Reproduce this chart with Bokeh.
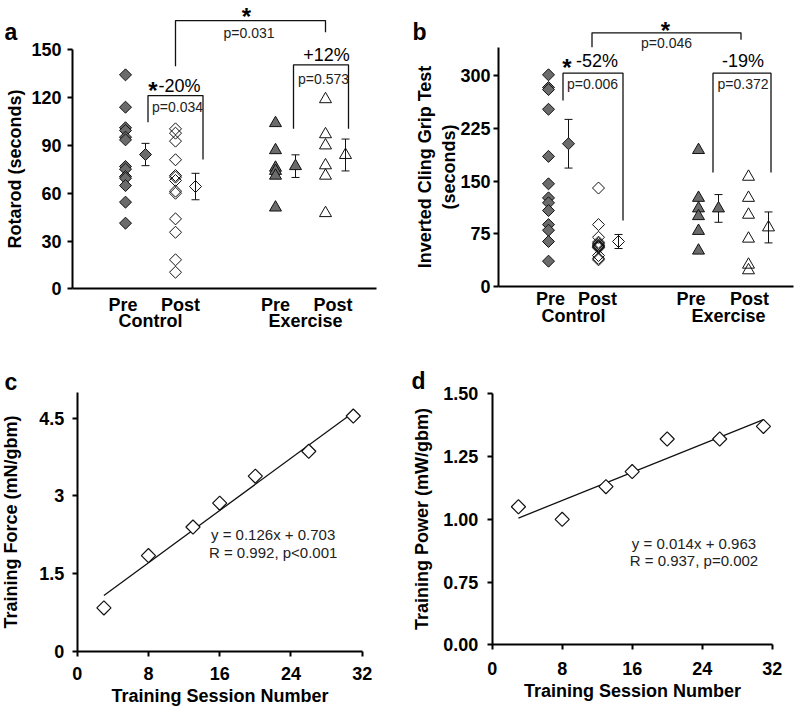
import numpy as np
from bokeh.plotting import figure
from bokeh.layouts import row, column
from bokeh.models import FixedTicker, LinearAxis, Range1d
from bokeh.core.properties import value
from bokeh.embed import file_html
from bokeh.resources import INLINE

FONT = "Liberation Sans"
GRAY = "#6b6b6b"
INK = "#111111"

# ---------------- panel a : Rotarod (seconds) ----------------
a_ctrl_pre = [134.3, 114.0, 101.1, 99.4, 95.2, 93.5, 76.8, 75.1, 70.5, 69.4, 64.8, 54.4, 41.2]
a_ctrl_post = [100.4, 97.7, 92.7, 81.0, 71.1, 70.1, 68.0, 61.3, 60.0, 43.9, 35.5, 18.2, 10.4]
a_ex_pre = [104.0, 87.0, 76.0, 74.0, 71.0, 51.0]
a_ex_post = [119.0, 97.0, 90.0, 77.5, 71.0, 47.5]
a_mean = [84.3, 64.2, 77.0, 84.0]
a_sem = [7.0, 8.3, 7.1, 10.0]
a_yticks = [0, 30, 60, 90, 120, 150]

# ---------------- panel b : Inverted cling grip (seconds) ----------------
b_ctrl_pre = [301, 283, 280, 252, 185, 146, 126, 119, 108, 88, 80, 64, 36]
b_ctrl_post = [140, 88, 70, 63, 61, 59, 58, 57, 56, 55, 44, 40, 38]
b_ex_pre = [194, 126, 111, 100, 79, 51]
b_ex_post = [156, 126, 102, 68, 31, 23]
b_mean = [203, 64, 111, 84]
b_sem = [34.6, 10.0, 19.7, 22.0]
b_yticks = [0, 75, 150, 225, 300]

# group positions (pre, post for control and exercise) and their means
grp_x = [1, 2, 4, 5]
mean_x = [1.4, 2.4, 4.4, 5.4]
grp_labels = ["Pre", "Post", "Pre", "Post"]
a_lbl_pos = [0.95, 2.1, 4.0, 5.15]
b_lbl_pos = [1.04, 1.98, 3.85, 5.02]
cond_labels = ["Control", "Exercise"]
cond_pos = [1.5, 4.6]

# annotations: brackets (x_left, x_right, y_top, y_left_end, y_right_end)
a_brackets = [(2.0, 5.0, 168.4, 139.7, 161.1),
              (1.45, 2.55, 121.3, 104.6, 81.2),
              (4.36, 5.46, 140.6, 100.4, 100.4)]
a_stars = [(3.42, 170.7), (1.55, 124.2)]
a_pct = [("-20%", 2.08, 127.1), ("+12%", 5.02, 146.5)]
a_pvals = [("p=0.031", 3.47, 160.6), ("p=0.034", 2.04, 113.9), ("p=0.573", 4.96, 131.6)]

b_brackets = [(1.87, 4.85, 360.7, 340.3, 350.8),
              (1.29, 2.49, 303.3, 264.5, 93.8),
              (4.29, 5.45, 303.3, 162.0, 162.0)]
b_stars = [(3.34, 364.4), (1.37, 310.8)]
b_pct = [("-52%", 1.97, 320.2), ("-19%", 4.89, 320.2)]
b_pvals = [("p=0.046", 3.36, 345.8), ("p=0.006", 1.88, 288.2), ("p=0.372", 4.89, 288.2)]

# ---------------- panels c, d : training ----------------
session = [3, 8, 13, 16, 20, 26, 31]
force = [0.84, 1.85, 2.40, 2.86, 3.38, 3.86, 4.54]
power = [1.05, 1.00, 1.13, 1.19, 1.32, 1.32, 1.37]
force_fit = (0.126, 0.703)
power_fit = (0.014, 0.963)
c_eq = ["y = 0.126x + 0.703", "R = 0.992, p<0.001"]
d_eq = ["y = 0.014x + 0.963", "R = 0.937, p=0.002"]
x_ticks = [0, 8, 16, 24, 32]
c_yticks = [0, 1.5, 3, 4.5]
c_ylabels = ["0", "1.5", "3", "4.5"]
d_yticks = [0.5, 0.75, 1.0, 1.25, 1.5]
d_ylabels = ["0.00", "0.75", "1.00", "1.25", "1.50"]


def make_fig(w, h, xr, yr):
    p = figure(width=w, height=h, x_range=Range1d(*xr), y_range=Range1d(*yr),
               output_backend="svg", toolbar_location=None,
               min_border_left=0, min_border_right=0,
               min_border_top=0, min_border_bottom=0)
    p.grid.visible = False
    p.outline_line_color = None
    p.background_fill_color = "white"
    p.border_fill_color = "white"
    return p


def style(ax, standoff, label_standoff=5, tick_out=5):
    ax.axis_line_width = 2
    ax.axis_line_color = "black"
    ax.major_tick_line_width = 2
    ax.major_tick_line_color = "black"
    ax.major_tick_in = 0
    ax.major_tick_out = tick_out
    ax.minor_tick_line_color = None
    ax.major_label_text_font = FONT
    ax.major_label_text_font_size = "18px"
    ax.major_label_text_font_style = "bold"
    ax.major_label_text_color = "black"
    ax.major_label_standoff = standoff
    ax.axis_label_text_font = FONT
    ax.axis_label_text_font_size = "18px"
    ax.axis_label_text_font_style = "bold"
    ax.axis_label_text_color = "black"
    ax.axis_label_standoff = label_standoff


def fixed(ax, ticks, labels):
    ax.ticker = FixedTicker(ticks=list(ticks), minor_ticks=[])
    ax.major_label_overrides = {float(t): l for t, l in zip(ticks, labels)}


def panel_letter(p, x, y, t):
    p.text(x=[x], y=[y], text=[t], text_font=value(FONT), text_font_size="23px",
           text_font_style="bold", text_align="left", text_baseline="alphabetic",
           text_color="black")


def scatter_panel(p, ctrl_pre, ctrl_post, ex_pre, ex_post, means, sems, cap,
                  brackets, stars, pcts, pvals, lbl_pos, cond_y, x_standoff):
    m = np.array(means, dtype=float)
    s = np.array(sems, dtype=float)
    mx = np.array(mean_x, dtype=float)
    p.segment(x0=mx, y0=m - s, x1=mx, y1=m + s, line_color=INK, line_width=1)
    p.segment(x0=mx - cap, y0=m + s, x1=mx + cap, y1=m + s, line_color=INK, line_width=1)
    p.segment(x0=mx - cap, y0=m - s, x1=mx + cap, y1=m - s, line_color=INK, line_width=1)
    dia = dict(marker="square", angle=np.pi / 4, size=8.5, line_color=INK, line_width=1)
    tri = dict(marker="triangle", size=12, line_color=INK, line_width=1)
    p.scatter([grp_x[0]] * len(ctrl_pre), ctrl_pre, fill_color=GRAY, **dia)
    p.scatter([grp_x[1]] * len(ctrl_post), ctrl_post, fill_color=None, **dia)
    p.scatter([grp_x[2]] * len(ex_pre), ex_pre, fill_color=GRAY, **tri)
    p.scatter([grp_x[3]] * len(ex_post), ex_post, fill_color=None, **tri)
    p.scatter([mx[0]], [m[0]], fill_color=GRAY, **dia)
    p.scatter([mx[1]], [m[1]], fill_color=None, **dia)
    p.scatter([mx[2]], [m[2]], fill_color=GRAY, **tri)
    p.scatter([mx[3]], [m[3]], fill_color=None, **tri)
    for xl, xr, yt, yl, yr in brackets:
        p.line([xl, xl, xr, xr], [yl, yt, yt, yr], line_color=INK, line_width=1.3)
    p.text(x=[v[0] for v in stars], y=[v[1] for v in stars], text=["*"] * len(stars),
           text_font=value(FONT), text_font_size="24px", text_font_style="bold",
           text_align="center", text_baseline="middle", text_color="black")
    p.text(x=[v[1] for v in pcts], y=[v[2] for v in pcts], text=[v[0] for v in pcts],
           text_font=value(FONT), text_font_size="18px",
           text_align="center", text_baseline="middle", text_color="black")
    p.text(x=[v[1] for v in pvals], y=[v[2] for v in pvals], text=[v[0] for v in pvals],
           text_font=value(FONT), text_font_size="14px",
           text_align="center", text_baseline="middle", text_color="#222222")
    xa = p.xaxis[0]
    style(xa, standoff=x_standoff, tick_out=0)
    xa.major_tick_line_color = None
    xa.fixed_location = 0
    fixed(xa, lbl_pos, grp_labels)
    ax2 = LinearAxis(fixed_location=cond_y)
    style(ax2, standoff=0, tick_out=0)
    ax2.axis_line_color = None
    ax2.major_tick_line_color = None
    fixed(ax2, cond_pos, cond_labels)
    p.add_layout(ax2, "below")


# ---- panel a ----
pa = make_fig(400, 340, (-1.5, 6.5), (-32.45, 180.98))
scatter_panel(pa, a_ctrl_pre, a_ctrl_post, a_ex_pre, a_ex_post, a_mean, a_sem, 0.08,
              a_brackets, a_stars, a_pct, a_pvals, a_lbl_pos, -13.9, 6)
pa.xaxis[0].bounds = (-0.06, 6.02)
ya = pa.yaxis[0]
style(ya, standoff=6, label_standoff=3)
fixed(ya, a_yticks, [str(t) for t in a_yticks])
ya.bounds = (0, 150)
ya.fixed_location = -0.06
ya.axis_label = "Rotarod (seconds)"
panel_letter(pa, -1.42, 160.9, "a")

# ---- panel b ----
pb = make_fig(394, 340, (-1.96, 5.92), (-76.78, 406.65))
scatter_panel(pb, b_ctrl_pre, b_ctrl_post, b_ex_pre, b_ex_post, b_mean, b_sem, 0.08,
              b_brackets, b_stars, b_pct, b_pvals, b_lbl_pos, -28.4, 2)
pb.xaxis[0].bounds = (0, 5.9)
yb = pb.yaxis[0]
style(yb, standoff=3, label_standoff=-2)
fixed(yb, b_yticks, [str(t) for t in b_yticks])
yb.bounds = (0, 340)
yb.fixed_location = 0
yb.axis_label = "Inverted Cling Grip Test\n(seconds)"
panel_letter(pb, -1.72, 361.2, "b")


def line_panel(p, yvals, fit, eq, eq_x, eq_y, ylab, yticks, ylabels, ybounds, x_loc,
               ystand, lstand, xstand, xlstand):
    p.line([session[0], session[-1]],
           [fit[0] * session[0] + fit[1], fit[0] * session[-1] + fit[1]],
           line_color=INK, line_width=1.3)
    p.scatter(session, yvals, marker="square", angle=np.pi / 4, size=10,
              fill_color="white", line_color=INK, line_width=1.2)
    p.text(x=[eq_x, eq_x], y=eq_y, text=eq, text_font=value(FONT), text_font_size="15px",
           text_align="center", text_baseline="middle", text_color="#222222")
    xa = p.xaxis[0]
    style(xa, standoff=xstand, label_standoff=xlstand)
    fixed(xa, x_ticks, [str(t) for t in x_ticks])
    xa.bounds = (0, 32)
    xa.fixed_location = x_loc
    xa.axis_label = "Training Session Number"
    ya_ = p.yaxis[0]
    style(ya_, standoff=ystand, label_standoff=lstand)
    fixed(ya_, yticks, ylabels)
    ya_.bounds = ybounds
    ya_.fixed_location = 0
    ya_.axis_label = ylab


# ---- panel c ----
pc = make_fig(400, 366, (-8.612, 36.30), (-1.060, 5.996))
line_panel(pc, force, force_fit, c_eq, 22.0, [2.26, 1.91], "Training Force (mN/gbm)",
           c_yticks, c_ylabels, (0, 5), 0, 8, 15, 10, 3)
panel_letter(pc, -8.16, 5.205, "c")

# ---- panel d ----
pd_ = make_fig(394, 366, (-10.48, 34.55), (0.2542, 1.7124))
line_panel(pd_, power, power_fit, d_eq, 23.06, [0.902, 0.835], "Training Power (mW/gbm)",
           d_yticks, d_ylabels, (0.5, 1.5), 0.5, 9, 8, 12, 3)
panel_letter(pd_, -9.22, 1.553, "d")

layout = column(row(pa, pb), row(pc, pd_))
open("out.html", "w").write(file_html(layout, INLINE))
